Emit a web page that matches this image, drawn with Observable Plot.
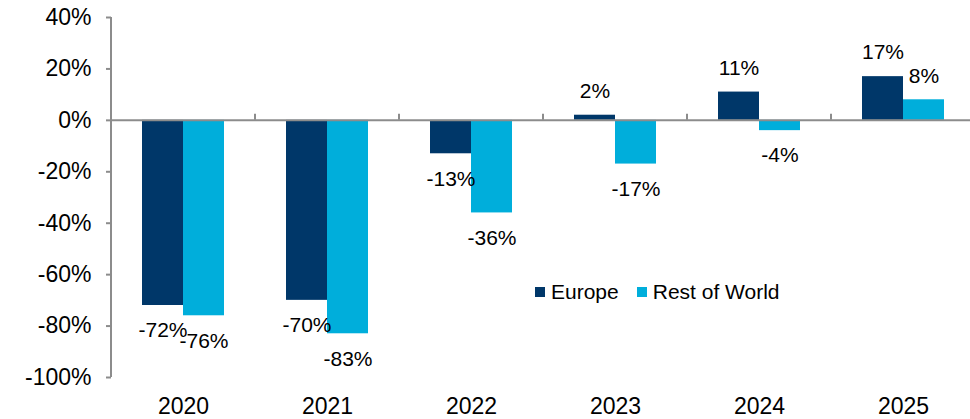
<!DOCTYPE html>
<html>
<head>
<meta charset="utf-8">
<script src="https://cdn.jsdelivr.net/npm/d3@7"></script>
<script src="https://cdn.jsdelivr.net/npm/@observablehq/plot@0.6"></script>
<style>
  html, body { margin: 0; padding: 0; background: #fff; }
  #wrap { position: relative; width: 970px; height: 419px; overflow: hidden; font-family: "Liberation Sans", Arial, sans-serif; }
  #legend { position: absolute; left: 535px; top: 280px; display: flex; align-items: center; font-size: 21px; color: #000; white-space: nowrap; }
  #legend .sw { display: inline-block; width: 10px; height: 10px; margin-right: 6px; }
  #legend .item { display: flex; align-items: center; margin-right: 18px; }
</style>
</head>
<body>
<div id="wrap"></div>
<script>
const years = ["2020", "2021", "2022", "2023", "2024", "2025"];
const seriesNames = ["Europe", "Rest of World"];
const europe = [-72, -70, -13, 2, 11, 17];
const restOfWorld = [-76, -83, -36, -17, -4, 8];
const yTicks = [-100, -80, -60, -40, -20, 0, 20, 40];
const colors = ["#003769", "#00AEDB"];

const data = years.flatMap((yr, i) => [
  {year: yr, series: seriesNames[0], value: europe[i]},
  {year: yr, series: seriesNames[1], value: restOfWorld[i]}
]);

const axisGrey = "#8c8c8c";

const plot = Plot.plot({
  width: 970,
  height: 419,
  marginLeft: 111,
  marginRight: -5,
  marginTop: 17,
  marginBottom: 42,
  style: {fontFamily: "'Liberation Sans', Arial, sans-serif", fontSize: "21px", color: "#000", background: "white", overflow: "hidden"},
  fx: {domain: years, padding: 0},
  x: {domain: seriesNames, paddingInner: 0, paddingOuter: 0.756, axis: null},
  y: {domain: [-100, 40]},
  color: {domain: seriesNames, range: colors},
  marks: [
    Plot.barY(data, {fx: "year", x: "series", y: "value", fill: "series"}),
    Plot.ruleY([0], {stroke: axisGrey, strokeWidth: 2}),
    Plot.text(data.filter(d => d.value >= 0), {fx: "year", x: "series", y: "value", text: d => d.value + "%", dy: -24, fill: "#000", fontSize: 21}),
    Plot.text(data.filter(d => d.value < 0), {fx: "year", x: "series", y: "value", text: d => d.value + "%", dy: 25, fill: "#000", fontSize: 21}),
    Plot.axisY({ticks: yTicks, tickFormat: d => d + "%", tickSize: 5, tickPadding: 15, stroke: axisGrey, strokeWidth: 2, fill: "#000", fontSize: 23, label: null}),
    Plot.axisFx({anchor: "bottom", tickSize: 0, tickPadding: 20, fill: "#000", fontSize: 23, label: null})
  ]
});

// Category boundary ticks and the y-axis line, placed with the plot's own scales
const fx = plot.scale("fx");
const y = plot.scale("y");
const svg = d3.select(plot);
const y0 = y.apply(0);
const g = svg.append("g").attr("stroke", axisGrey).attr("stroke-width", 2);
const bounds = years.map(yr => fx.apply(yr));
bounds.push(fx.apply(years[years.length - 1]) + fx.bandwidth);
bounds.forEach(bx => {
  g.append("line").attr("x1", bx).attr("x2", bx).attr("y1", y0 - 6).attr("y2", y0);
});
g.append("line")
  .attr("x1", bounds[0]).attr("x2", bounds[0])
  .attr("y1", y.apply(40)).attr("y2", y.apply(-100));

const wrap = document.getElementById("wrap");
wrap.appendChild(plot);

const legend = document.createElement("div");
legend.id = "legend";
seriesNames.forEach((name, i) => {
  const item = document.createElement("span");
  item.className = "item";
  const sw = document.createElement("span");
  sw.className = "sw";
  sw.style.background = colors[i];
  item.appendChild(sw);
  item.appendChild(document.createTextNode(name));
  legend.appendChild(item);
});
wrap.appendChild(legend);
</script>
</body>
</html>
